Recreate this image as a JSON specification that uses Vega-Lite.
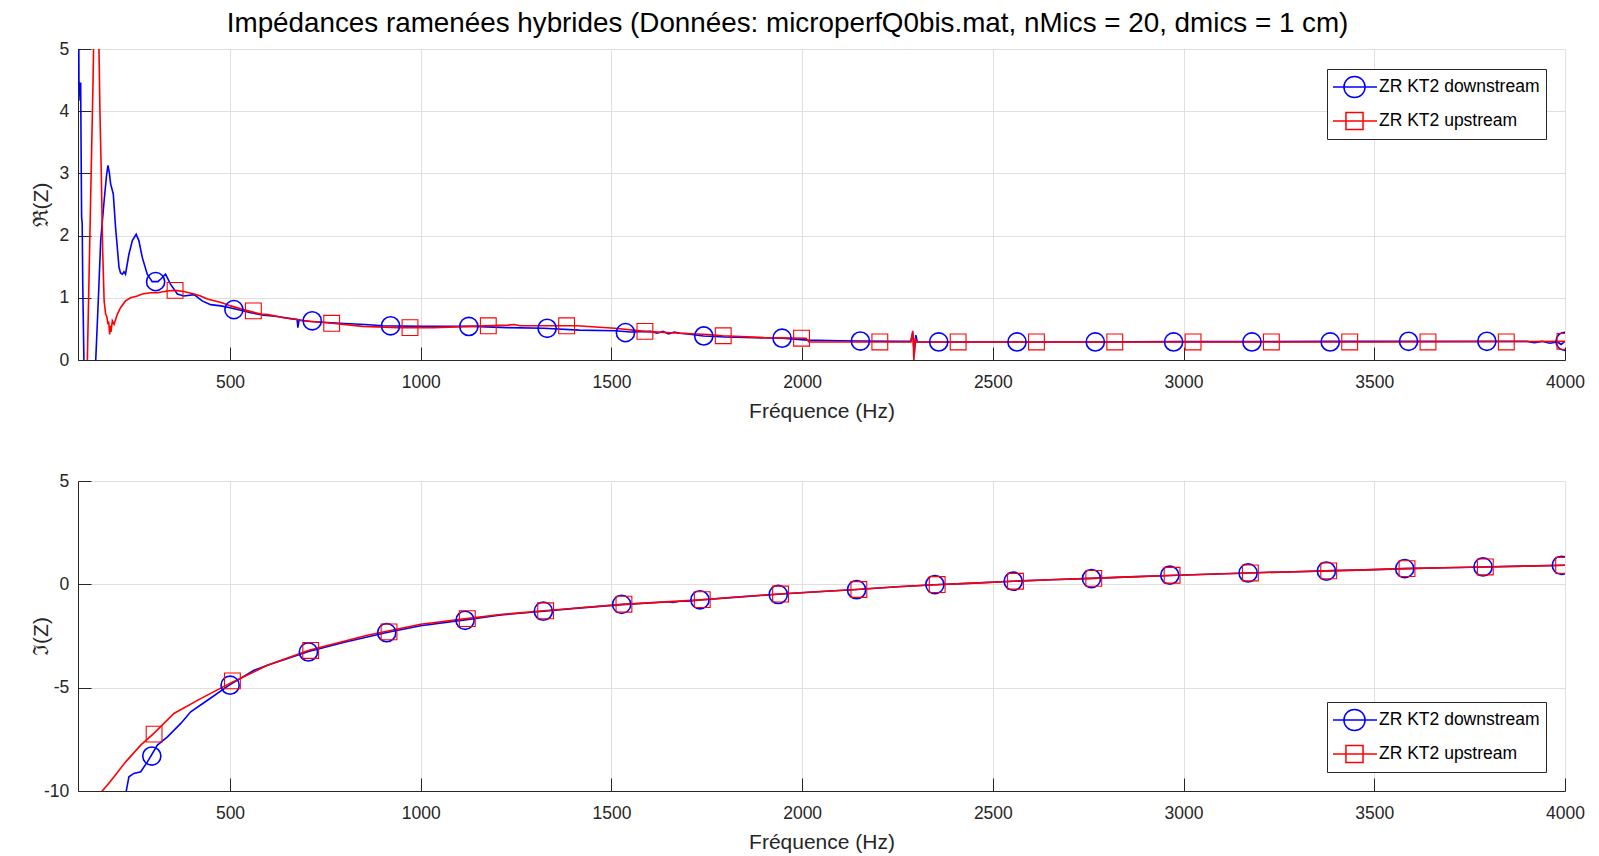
{
  "$schema": "https://vega.github.io/schema/vega-lite/v6.json",
  "padding": {"left": 30, "top": 10, "right": 5, "bottom": 5},
  "title": {"text": "Impédances ramenées hybrides (Données: microperfQ0bis.mat, nMics = 20, dmics = 1 cm)", "font": "Liberation Sans", "fontSize": 27.8, "fontWeight": "normal", "color": "#000000", "anchor": "middle", "offset": 2, "dx": -20},
  "config": {
    "font": "Liberation Sans",
    "view": {"stroke": null},
    "axis": {"domainColor": "#262626", "tickColor": "#262626", "labelColor": "#262626", "titleColor": "#262626", "gridColor": "#dfdfdf", "labelFont": "Liberation Sans", "titleFont": "Liberation Sans", "labelFontSize": 17.5, "titleFontSize": 21, "titleFontWeight": "normal", "tickSize": -13, "domainWidth": 1, "labelFlush": false, "labelOverlap": false, "grid": true, "labelExpr": "datum.value + ''"},
    "legend": {"title": null, "strokeColor": "#262626", "fillColor": "#ffffff", "padding": 6, "labelFont": "Liberation Sans", "labelFontSize": 17.5, "labelColor": "#000000", "labelLimit": 400, "symbolSize": 2025, "clipHeight": 24, "rowPadding": 10, "labelOffset": 1, "symbolOffset": -2, "symbolStrokeWidth": 1.5}
  },
  "datasets": {
    "re": [
      {"s":"d","f":101.5,"v":9},{"s":"d","f":103,"v":6},{"s":"d","f":104,"v":4.49},{"s":"d","f":106,"v":4.3},{"s":"d","f":107,"v":4.17},{"s":"d","f":108.5,"v":4.46},{"s":"d","f":109.5,"v":3.5},{"s":"d","f":111,"v":2.29},{"s":"d","f":112.5,"v":2.2},{"s":"d","f":114,"v":1.2},{"s":"d","f":117,"v":0},{"s":"d","f":122,"v":-2},{"s":"d","f":130,"v":-3},{"s":"d","f":140,"v":-2},{"s":"d","f":148,"v":0},{"s":"d","f":155,"v":1.0},{"s":"d","f":161,"v":1.92},{"s":"d","f":170,"v":2.56},{"s":"d","f":176,"v":2.95},{"s":"d","f":180,"v":3.13},{"s":"d","f":184,"v":3.0},{"s":"d","f":187,"v":2.83},{"s":"d","f":194,"v":2.67},{"s":"d","f":200,"v":2.13},{"s":"d","f":209,"v":1.49},{"s":"d","f":213,"v":1.40},{"s":"d","f":218,"v":1.38},{"s":"d","f":222,"v":1.42},{"s":"d","f":226,"v":1.38},{"s":"d","f":235,"v":1.70},{"s":"d","f":244,"v":1.92},{"s":"d","f":254,"v":2.02},{"s":"d","f":261,"v":1.92},{"s":"d","f":270,"v":1.65},{"s":"d","f":283,"v":1.38},{"s":"d","f":296,"v":1.26},{"s":"d","f":311,"v":1.26},{"s":"d","f":320,"v":1.31},{"s":"d","f":331,"v":1.38},{"s":"d","f":344,"v":1.22},{"s":"d","f":362,"v":1.06},{"s":"d","f":379,"v":1.03},{"s":"d","f":406,"v":1.05},{"s":"d","f":427,"v":0.95},{"s":"d","f":449,"v":0.89},{"s":"d","f":476,"v":0.87},{"s":"d","f":500,"v":0.84},{"s":"d","f":528,"v":0.80},{"s":"d","f":554,"v":0.76},{"s":"d","f":589,"v":0.72},{"s":"d","f":624,"v":0.70},{"s":"d","f":659,"v":0.665},{"s":"d","f":676,"v":0.65},{"s":"d","f":678,"v":0.52},{"s":"d","f":681,"v":0.64},{"s":"d","f":711,"v":0.62},{"s":"d","f":788,"v":0.59},{"s":"d","f":854,"v":0.57},{"s":"d","f":901,"v":0.55},{"s":"d","f":1004,"v":0.54},{"s":"d","f":1135,"v":0.54},{"s":"d","f":1228,"v":0.52},{"s":"d","f":1322,"v":0.51},{"s":"d","f":1416,"v":0.48},{"s":"d","f":1509,"v":0.47},{"s":"d","f":1550,"v":0.45},{"s":"d","f":1603,"v":0.46},{"s":"d","f":1620,"v":0.43},{"s":"d","f":1635,"v":0.46},{"s":"d","f":1650,"v":0.42},{"s":"d","f":1665,"v":0.45},{"s":"d","f":1680,"v":0.43},{"s":"d","f":1700,"v":0.42},{"s":"d","f":1741,"v":0.386},{"s":"d","f":1800,"v":0.37},{"s":"d","f":1948,"v":0.35},{"s":"d","f":2014,"v":0.32},{"s":"d","f":2100,"v":0.31},{"s":"d","f":2152,"v":0.305},{"s":"d","f":2250,"v":0.30},{"s":"d","f":2285,"v":0.30},{"s":"d","f":2290,"v":0.44},{"s":"d","f":2294,"v":0.09},{"s":"d","f":2298,"v":0.40},{"s":"d","f":2302,"v":0.29},{"s":"d","f":2359,"v":0.29},{"s":"d","f":2564,"v":0.29},{"s":"d","f":2770,"v":0.29},{"s":"d","f":2975,"v":0.295},{"s":"d","f":3180,"v":0.295},{"s":"d","f":3385,"v":0.30},{"s":"d","f":3590,"v":0.30},{"s":"d","f":3795,"v":0.30},{"s":"d","f":3900,"v":0.30},{"s":"d","f":3920,"v":0.28},{"s":"d","f":3940,"v":0.30},{"s":"d","f":3960,"v":0.27},{"s":"d","f":3980,"v":0.29},{"s":"d","f":3990,"v":0.25},{"s":"d","f":4000,"v":0.30},
      {"s":"u","f":101.5,"v":-3},{"s":"u","f":120,"v":-1.5},{"s":"u","f":126,"v":0},{"s":"u","f":131,"v":1.5},{"s":"u","f":136,"v":3.0},{"s":"u","f":141,"v":4.5},{"s":"u","f":143,"v":5.3},{"s":"u","f":147,"v":8},{"s":"u","f":151,"v":8},{"s":"u","f":154,"v":6.5},{"s":"u","f":156.5,"v":5},{"s":"u","f":159,"v":4.0},{"s":"u","f":162.6,"v":2.99},{"s":"u","f":166,"v":1.8},{"s":"u","f":170,"v":0.95},{"s":"u","f":174,"v":0.735},{"s":"u","f":177,"v":0.7},{"s":"u","f":180,"v":0.574},{"s":"u","f":182,"v":0.62},{"s":"u","f":184.5,"v":0.41},{"s":"u","f":186,"v":0.55},{"s":"u","f":188,"v":0.45},{"s":"u","f":191.5,"v":0.63},{"s":"u","f":196,"v":0.574},{"s":"u","f":204.6,"v":0.735},{"s":"u","f":213,"v":0.84},{"s":"u","f":226,"v":0.95},{"s":"u","f":239.5,"v":1.0},{"s":"u","f":257,"v":1.03},{"s":"u","f":270,"v":1.06},{"s":"u","f":292,"v":1.08},{"s":"u","f":309.5,"v":1.08},{"s":"u","f":336,"v":1.11},{"s":"u","f":356,"v":1.12},{"s":"u","f":379,"v":1.10},{"s":"u","f":405.6,"v":1.06},{"s":"u","f":423,"v":1.03},{"s":"u","f":440.6,"v":0.98},{"s":"u","f":479,"v":0.92},{"s":"u","f":502,"v":0.87},{"s":"u","f":535,"v":0.81},{"s":"u","f":580,"v":0.74},{"s":"u","f":600,"v":0.73},{"s":"u","f":641.6,"v":0.68},{"s":"u","f":675,"v":0.65},{"s":"u","f":694,"v":0.63},{"s":"u","f":767,"v":0.59},{"s":"u","f":848,"v":0.54},{"s":"u","f":941,"v":0.52},{"s":"u","f":1035,"v":0.52},{"s":"u","f":1129,"v":0.54},{"s":"u","f":1228,"v":0.56},{"s":"u","f":1245,"v":0.57},{"s":"u","f":1260,"v":0.55},{"s":"u","f":1322,"v":0.55},{"s":"u","f":1409,"v":0.55},{"s":"u","f":1509,"v":0.51},{"s":"u","f":1588,"v":0.46},{"s":"u","f":1680,"v":0.43},{"s":"u","f":1753,"v":0.41},{"s":"u","f":1793,"v":0.39},{"s":"u","f":1900,"v":0.36},{"s":"u","f":2010,"v":0.35},{"s":"u","f":2018,"v":0.29},{"s":"u","f":2100,"v":0.29},{"s":"u","f":2200,"v":0.29},{"s":"u","f":2285,"v":0.29},{"s":"u","f":2290,"v":0.47},{"s":"u","f":2293,"v":0.0},{"s":"u","f":2296,"v":0.35},{"s":"u","f":2300,"v":0.29},{"s":"u","f":2500,"v":0.29},{"s":"u","f":3000,"v":0.29},{"s":"u","f":3500,"v":0.29},{"s":"u","f":4000,"v":0.30}
    ],
    "reM": [
      {"s":"d","f":305,"v":1.26},{"s":"d","f":510.3,"v":0.81},{"s":"d","f":715.6,"v":0.63},{"s":"d","f":920.9,"v":0.55},{"s":"d","f":1126.2,"v":0.54},{"s":"d","f":1331.5,"v":0.51},{"s":"d","f":1536.8,"v":0.44},{"s":"d","f":1742.1,"v":0.386},{"s":"d","f":1947.4,"v":0.35},{"s":"d","f":2152.7,"v":0.305},{"s":"d","f":2358,"v":0.29},{"s":"d","f":2563.3,"v":0.29},{"s":"d","f":2768.6,"v":0.29},{"s":"d","f":2973.9,"v":0.29},{"s":"d","f":3179.2,"v":0.29},{"s":"d","f":3384.5,"v":0.29},{"s":"d","f":3589.8,"v":0.30},{"s":"d","f":3795.1,"v":0.30},{"s":"d","f":4000,"v":0.30},
      {"s":"u","f":356,"v":1.12},{"s":"u","f":561.3,"v":0.79},{"s":"u","f":766.6,"v":0.59},{"s":"u","f":971.9,"v":0.52},{"s":"u","f":1177.2,"v":0.55},{"s":"u","f":1382.5,"v":0.55},{"s":"u","f":1587.8,"v":0.46},{"s":"u","f":1793.1,"v":0.39},{"s":"u","f":1998.4,"v":0.35},{"s":"u","f":2203.7,"v":0.29},{"s":"u","f":2409,"v":0.29},{"s":"u","f":2614.3,"v":0.29},{"s":"u","f":2819.6,"v":0.29},{"s":"u","f":3024.9,"v":0.29},{"s":"u","f":3230.2,"v":0.29},{"s":"u","f":3435.5,"v":0.29},{"s":"u","f":3640.8,"v":0.29},{"s":"u","f":3846.1,"v":0.29},{"s":"u","f":4000,"v":0.30}
    ],
    "im": [
      {"s":"d","f":224,"v":-10.6},{"s":"d","f":228,"v":-10},{"s":"d","f":235,"v":-9.31},{"s":"d","f":248,"v":-9.15},{"s":"d","f":266,"v":-9.07},{"s":"d","f":283.5,"v":-8.59},{"s":"d","f":309.6,"v":-7.78},{"s":"d","f":336,"v":-7.38},{"s":"d","f":371,"v":-6.73},{"s":"d","f":397,"v":-6.17},{"s":"d","f":441,"v":-5.61},{"s":"d","f":498,"v":-4.88},{"s":"d","f":563,"v":-4.16},{"s":"d","f":598,"v":-3.92},{"s":"d","f":706,"v":-3.25},{"s":"d","f":800,"v":-2.8},{"s":"d","f":911,"v":-2.33},{"s":"d","f":1000,"v":-2.0},{"s":"d","f":1116,"v":-1.72},{"s":"d","f":1210,"v":-1.48},{"s":"d","f":1322,"v":-1.30},{"s":"d","f":1420,"v":-1.14},{"s":"d","f":1527,"v":-0.98},{"s":"d","f":1620,"v":-0.88},{"s":"d","f":1650,"v":-0.84},{"s":"d","f":1660,"v":-0.88},{"s":"d","f":1680,"v":-0.82},{"s":"d","f":1700,"v":-0.82},{"s":"d","f":1732,"v":-0.76},{"s":"d","f":1830,"v":-0.62},{"s":"d","f":1937,"v":-0.48},{"s":"d","f":2040,"v":-0.36},{"s":"d","f":2143,"v":-0.25},{"s":"d","f":2250,"v":-0.12},{"s":"d","f":2348,"v":-0.02},{"s":"d","f":2450,"v":0.06},{"s":"d","f":2553,"v":0.15},{"s":"d","f":2650,"v":0.22},{"s":"d","f":2758,"v":0.29},{"s":"d","f":2860,"v":0.36},{"s":"d","f":2963,"v":0.43},{"s":"d","f":3065,"v":0.49},{"s":"d","f":3168,"v":0.55},{"s":"d","f":3270,"v":0.60},{"s":"d","f":3374,"v":0.65},{"s":"d","f":3477,"v":0.70},{"s":"d","f":3580,"v":0.76},{"s":"d","f":3683,"v":0.80},{"s":"d","f":3786,"v":0.84},{"s":"d","f":3890,"v":0.88},{"s":"d","f":4000,"v":0.92},
      {"s":"u","f":160,"v":-10.3},{"s":"u","f":165,"v":-10},{"s":"u","f":178.6,"v":-9.71},{"s":"u","f":196,"v":-9.31},{"s":"u","f":226.5,"v":-8.59},{"s":"u","f":266,"v":-7.78},{"s":"u","f":301,"v":-7.2},{"s":"u","f":353,"v":-6.25},{"s":"u","f":423,"v":-5.53},{"s":"u","f":502,"v":-4.77},{"s":"u","f":598,"v":-3.92},{"s":"u","f":707,"v":-3.19},{"s":"u","f":860,"v":-2.46},{"s":"u","f":1000,"v":-1.93},{"s":"u","f":1120,"v":-1.66},{"s":"u","f":1210,"v":-1.46},{"s":"u","f":1322,"v":-1.28},{"s":"u","f":1420,"v":-1.13},{"s":"u","f":1527,"v":-0.97},{"s":"u","f":1630,"v":-0.86},{"s":"u","f":1732,"v":-0.75},{"s":"u","f":1830,"v":-0.61},{"s":"u","f":1937,"v":-0.47},{"s":"u","f":2040,"v":-0.36},{"s":"u","f":2143,"v":-0.25},{"s":"u","f":2250,"v":-0.12},{"s":"u","f":2348,"v":-0.02},{"s":"u","f":2450,"v":0.06},{"s":"u","f":2553,"v":0.15},{"s":"u","f":2650,"v":0.22},{"s":"u","f":2758,"v":0.29},{"s":"u","f":2860,"v":0.36},{"s":"u","f":2963,"v":0.43},{"s":"u","f":3065,"v":0.49},{"s":"u","f":3168,"v":0.55},{"s":"u","f":3270,"v":0.60},{"s":"u","f":3374,"v":0.65},{"s":"u","f":3477,"v":0.70},{"s":"u","f":3580,"v":0.76},{"s":"u","f":3683,"v":0.80},{"s":"u","f":3786,"v":0.84},{"s":"u","f":3890,"v":0.88},{"s":"u","f":4000,"v":0.92}
    ],
    "imM": [
      {"s":"d","f":295,"v":-8.31},{"s":"d","f":500.3,"v":-4.88},{"s":"d","f":705.6,"v":-3.27},{"s":"d","f":910.9,"v":-2.34},{"s":"d","f":1116.2,"v":-1.74},{"s":"d","f":1321.5,"v":-1.30},{"s":"d","f":1526.8,"v":-0.97},{"s":"d","f":1732.1,"v":-0.75},{"s":"d","f":1937.4,"v":-0.49},{"s":"d","f":2142.7,"v":-0.26},{"s":"d","f":2348,"v":-0.01},{"s":"d","f":2553.3,"v":0.15},{"s":"d","f":2758.6,"v":0.28},{"s":"d","f":2963.9,"v":0.44},{"s":"d","f":3169.2,"v":0.55},{"s":"d","f":3374.5,"v":0.64},{"s":"d","f":3579.8,"v":0.76},{"s":"d","f":3785.1,"v":0.84},{"s":"d","f":3990.4,"v":0.92},
      {"s":"u","f":301,"v":-7.25},{"s":"u","f":506.3,"v":-4.67},{"s":"u","f":711.6,"v":-3.20},{"s":"u","f":916.9,"v":-2.30},{"s":"u","f":1122.2,"v":-1.66},{"s":"u","f":1327.5,"v":-1.28},{"s":"u","f":1532.8,"v":-0.96},{"s":"u","f":1738.1,"v":-0.74},{"s":"u","f":1943.4,"v":-0.47},{"s":"u","f":2148.7,"v":-0.25},{"s":"u","f":2354,"v":-0.01},{"s":"u","f":2559.3,"v":0.15},{"s":"u","f":2764.6,"v":0.29},{"s":"u","f":2969.9,"v":0.44},{"s":"u","f":3175.2,"v":0.55},{"s":"u","f":3380.5,"v":0.65},{"s":"u","f":3585.8,"v":0.76},{"s":"u","f":3791.1,"v":0.84},{"s":"u","f":3996.4,"v":0.92}
    ]
  },
  "resolve": {"scale": {"color": "independent"}, "legend": {"color": "independent"}},
  "spacing": 50,
  "vconcat": [
    {
      "width": 1487, "height": 311,
      "layer": [
        {
          "data": {"name": "re"},
          "mark": {"type": "line", "clip": true, "strokeWidth": 1.6},
          "encoding": {
            "x": {"field": "f", "type": "quantitative", "scale": {"domain": [101.5, 4000], "nice": false, "zero": false},
                  "axis": {"values": [500,1000,1500,2000,2500,3000,3500,4000], "title": "Fréquence (Hz)", "labelPadding": 26.7, "titleBaseline": "alphabetic", "titleY": 57.7}},
            "y": {"field": "v", "type": "quantitative", "scale": {"domain": [0, 5], "nice": false, "zero": false},
                  "axis": {"values": [0,1,2,3,4,5], "title": "ℜ(Z)", "labelPadding": 22.3, "titleX": -36.3, "titleBaseline": "middle", "titleAngle": 270}},
            "color": {"field": "s", "type": "nominal", "scale": {"domain": ["d","u"], "range": ["#0000ff","#ff0000"]},
                      "legend": {"orient": "top-right", "offset": 19.5,
                                 "labelExpr": "datum.value == 'd' ? 'ZR KT2 downstream' : 'ZR KT2 upstream'",
                                 "encode": {"symbols": {"update": {
                                   "shape": {"signal": "datum.value == 'd' ? 'M-1,0L1,0M0.47,0A0.47,0.47,0,1,1,-0.47,0A0.47,0.47,0,1,1,0.47,0' : 'M-1,0L1,0M-0.38,-0.38L0.38,-0.38L0.38,0.38L-0.38,0.38Z'"},
                                   "fill": {"value": "transparent"}}}}}}
          }
        },
        {
          "data": {"name": "reM"},
          "transform": [{"filter": "datum.s == 'd'"}],
          "mark": {"type": "point", "shape": "circle", "size": 330, "filled": false, "stroke": "#0000ff", "strokeWidth": 1.6, "opacity": 1, "clip": true},
          "encoding": {"x": {"field": "f", "type": "quantitative"}, "y": {"field": "v", "type": "quantitative"}}
        },
        {
          "data": {"name": "reM"},
          "transform": [{"filter": "datum.s == 'u'"}],
          "mark": {"type": "point", "shape": "square", "size": 250, "filled": false, "stroke": "#ff0000", "strokeWidth": 1.1, "opacity": 1, "clip": true},
          "encoding": {"x": {"field": "f", "type": "quantitative"}, "y": {"field": "v", "type": "quantitative"}}
        }
      ]
    },
    {
      "width": 1487, "height": 310,
      "layer": [
        {
          "data": {"name": "im"},
          "mark": {"type": "line", "clip": true, "strokeWidth": 1.6},
          "encoding": {
            "x": {"field": "f", "type": "quantitative", "scale": {"domain": [101.5, 4000], "nice": false, "zero": false},
                  "axis": {"values": [500,1000,1500,2000,2500,3000,3500,4000], "title": "Fréquence (Hz)", "labelPadding": 26.7, "titleBaseline": "alphabetic", "titleY": 57.7}},
            "y": {"field": "v", "type": "quantitative", "scale": {"domain": [-10, 5], "nice": false, "zero": false},
                  "axis": {"values": [-10,-5,0,5], "title": "ℑ(Z)", "labelPadding": 22.3, "titleX": -36.3, "titleBaseline": "middle", "titleAngle": 270}},
            "color": {"field": "s", "type": "nominal", "scale": {"domain": ["d","u"], "range": ["#0000ff","#ff0000"]},
                      "legend": {"orient": "bottom-right", "offset": 19.5,
                                 "labelExpr": "datum.value == 'd' ? 'ZR KT2 downstream' : 'ZR KT2 upstream'",
                                 "encode": {"symbols": {"update": {
                                   "shape": {"signal": "datum.value == 'd' ? 'M-1,0L1,0M0.47,0A0.47,0.47,0,1,1,-0.47,0A0.47,0.47,0,1,1,0.47,0' : 'M-1,0L1,0M-0.38,-0.38L0.38,-0.38L0.38,0.38L-0.38,0.38Z'"},
                                   "fill": {"value": "transparent"}}}}}}
          }
        },
        {
          "data": {"name": "imM"},
          "transform": [{"filter": "datum.s == 'd'"}],
          "mark": {"type": "point", "shape": "circle", "size": 330, "filled": false, "stroke": "#0000ff", "strokeWidth": 1.6, "opacity": 1, "clip": true},
          "encoding": {"x": {"field": "f", "type": "quantitative"}, "y": {"field": "v", "type": "quantitative"}}
        },
        {
          "data": {"name": "imM"},
          "transform": [{"filter": "datum.s == 'u'"}],
          "mark": {"type": "point", "shape": "square", "size": 250, "filled": false, "stroke": "#ff0000", "strokeWidth": 1.1, "opacity": 1, "clip": true},
          "encoding": {"x": {"field": "f", "type": "quantitative"}, "y": {"field": "v", "type": "quantitative"}}
        }
      ]
    }
  ]
}
